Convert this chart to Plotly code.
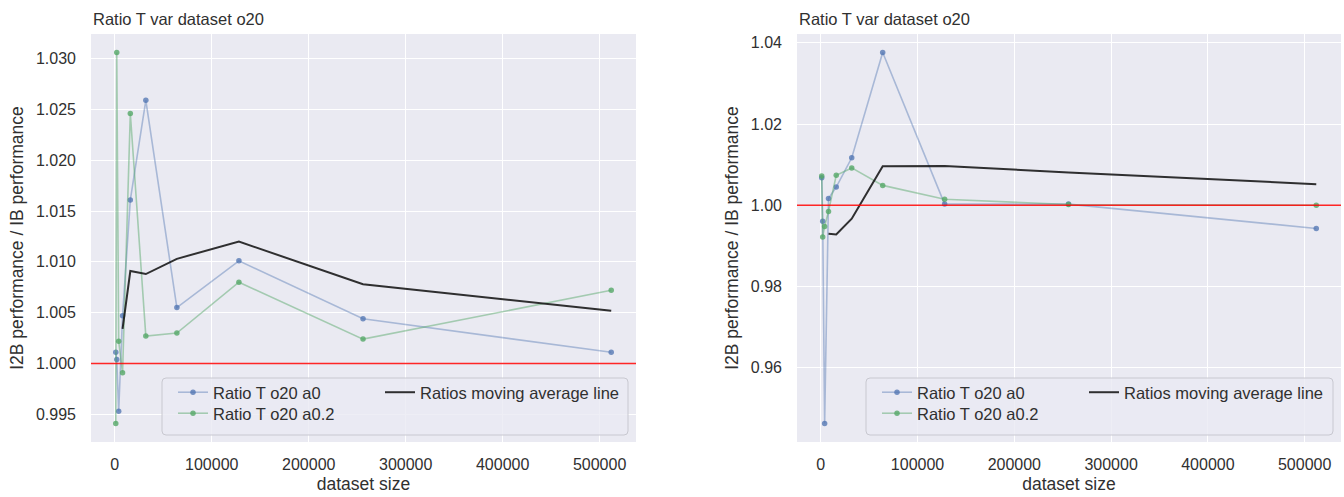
import plotly.graph_objects as go

# ---------------- data ----------------
dataset_size = [1000, 2000, 4000, 8000, 16000, 32000, 64000, 128000, 256000, 512000]
ma_size = [8000, 16000, 32000, 64000, 128000, 256000, 512000]

left_a0 = [1.0011, 1.0004, 0.9953, 1.0047, 1.0161, 1.0259, 1.0055, 1.0101, 1.0044, 1.0011]
left_a02 = [0.9941, 1.0306, 1.0022, 0.9991, 1.0246, 1.0027, 1.0030, 1.0080, 1.0024, 1.0072]
left_ma = [1.0034, 1.0091, 1.0088, 1.0103, 1.0120, 1.0078, 1.0052]

right_a0 = [1.0068, 0.9961, 0.9463, 1.0017, 1.0045, 1.0117, 1.0376, 1.0003, 1.0003, 0.9943]
right_a02 = [1.0072, 0.9922, 0.9948, 0.9985, 1.0074, 1.0092, 1.0049, 1.0015, 1.0002, 1.0000]
right_ma = [0.9930, 0.9928, 0.9967, 1.0096, 1.0097, 1.0081, 1.0052]

x_ticks = [0, 100000, 200000, 300000, 400000, 500000]
left_y_ticks = [0.995, 1.000, 1.005, 1.010, 1.015, 1.020, 1.025, 1.030]
right_y_ticks = [0.96, 0.98, 1.00, 1.02, 1.04]
baseline = 1.0

title_text = "Ratio T var dataset o20"
names = ["Ratio T o20 a0", "Ratio T o20 a0.2", "Ratios moving average line"]

# ---------------- style ----------------
W, H = 1344, 497
FONT = "Liberation Sans, Arial, sans-serif"
TXT = "#303030"
BG = "#EAEAF2"
BLUE_L = "rgba(76,114,176,0.42)"
BLUE_M = "rgba(76,114,176,0.75)"
GREEN_L = "rgba(85,168,104,0.48)"
GREEN_M = "rgba(85,168,104,0.8)"
BLACK = "rgba(20,20,20,0.88)"


def pad(*series):
    vals = [v for s in series for v in s]
    lo, hi = min(vals), max(vals)
    m = 0.05 * (hi - lo)
    return [lo - m, hi + m]


def px_x(p):
    return p / W


def px_y(p):
    return 1 - p / H


def rounded_rect(x0, x1, y0, y1, r=4):
    X0, X1 = px_x(x0), px_x(x1)
    Yt, Yb = px_y(y0), px_y(y1)
    rx, ry = r / W, r / H
    return (f"M{X0+rx},{Yt} L{X1-rx},{Yt} Q{X1},{Yt} {X1},{Yt-ry} "
            f"L{X1},{Yb+ry} Q{X1},{Yb} {X1-rx},{Yb} "
            f"L{X0+rx},{Yb} Q{X0},{Yb} {X0},{Yb+ry} "
            f"L{X0},{Yt-ry} Q{X0},{Yt} {X0+rx},{Yt} Z")


fig = go.Figure()

panels = [
    dict(xa="x", ya="y", a0=left_a0, a02=left_a02, ma=left_ma,
         dom=[91, 636], ticks=left_y_ticks, fmt=".3f", box=[162, 628]),
    dict(xa="x2", ya="y2", a0=right_a0, a02=right_a02, ma=right_ma,
         dom=[797, 1341], ticks=right_y_ticks, fmt=".2f", box=[866, 1333]),
]

layout_axes = {}
shapes = []
annotations = []
legends = {}
lg_count = 0


def new_legend(x_px, y_top_px):
    global lg_count
    lg_count += 1
    key = "legend" if lg_count == 1 else f"legend{lg_count}"
    legends[key] = dict(x=px_x(x_px), xanchor="left", y=px_y(y_top_px), yanchor="top",
                        bgcolor="rgba(0,0,0,0)", borderwidth=0,
                        font=dict(size=16.5, color=TXT, family=FONT),
                        tracegroupgap=0, itemwidth=30)
    return key


for i, p in enumerate(panels):
    bx = p["box"][0]
    lg_a0 = new_legend(bx + 11, 375)
    lg_a02 = new_legend(bx + 11, 396)
    lg_ma = new_legend(bx + 218, 375)

    fig.add_trace(go.Scatter(
        x=dataset_size, y=p["a0"], name=names[0], mode="lines+markers",
        xaxis=p["xa"], yaxis=p["ya"], legend=lg_a0,
        line=dict(color=BLUE_L, width=1.6),
        marker=dict(color=BLUE_M, size=5.5)))
    fig.add_trace(go.Scatter(
        x=dataset_size, y=p["a02"], name=names[1], mode="lines+markers",
        xaxis=p["xa"], yaxis=p["ya"], legend=lg_a02,
        line=dict(color=GREEN_L, width=1.6),
        marker=dict(color=GREEN_M, size=5.5)))
    fig.add_trace(go.Scatter(
        x=ma_size, y=p["ma"], name=names[2], mode="lines",
        xaxis=p["xa"], yaxis=p["ya"], legend=lg_ma,
        line=dict(color=BLACK, width=2)))

    suffix = "" if i == 0 else "2"
    yr = pad(p["a0"], p["a02"], p["ma"], [baseline])
    xr = pad(dataset_size)
    layout_axes["xaxis" + suffix] = dict(
        domain=[px_x(p["dom"][0]), px_x(p["dom"][1])],
        anchor="y" + suffix, range=xr, tickvals=x_ticks, tickformat="d",
        showgrid=True, gridcolor="white", gridwidth=1.3, zeroline=False,
        showline=False, ticks="", ticklabelstandoff=11,
        tickfont=dict(size=16, color=TXT, family=FONT),
        title=dict(text="dataset size", font=dict(size=17.5, color=TXT, family=FONT), standoff=5),
    )
    layout_axes["yaxis" + suffix] = dict(
        domain=[px_y(442), px_y(34)], anchor="x" + suffix, range=yr,
        tickvals=p["ticks"], tickformat=p["fmt"],
        showgrid=True, gridcolor="white", gridwidth=1.3, zeroline=False,
        showline=False, ticks="", ticklabelstandoff=14,
        tickfont=dict(size=16, color=TXT, family=FONT),
        title=dict(text="I2B performance / IB performance",
                   font=dict(size=17.5, color=TXT, family=FONT), standoff=7),
    )
    shapes.append(dict(type="line", xref=p["xa"] + " domain", yref=p["ya"],
                       x0=0, x1=1, y0=baseline, y1=baseline,
                       line=dict(color="rgba(255,0,0,0.85)", width=1.6), layer="above"))
    shapes.append(dict(type="path", xref="paper", yref="paper",
                       path=rounded_rect(p["box"][0], p["box"][1], 378, 435),
                       fillcolor="rgba(234,234,242,0.8)",
                       line=dict(color="rgba(200,200,208,1)", width=1), layer="above"))
    annotations.append(dict(text=title_text, xref=p["xa"] + " domain", yref=p["ya"] + " domain",
                            x=0, y=1, xanchor="left", yanchor="bottom", yshift=4,
                            showarrow=False, font=dict(size=16.5, color=TXT, family=FONT)))

fig.update_layout(
    width=W, height=H, margin=dict(l=0, r=0, t=0, b=0),
    paper_bgcolor="white", plot_bgcolor=BG,
    font=dict(family=FONT, color=TXT),
    shapes=shapes, annotations=annotations,
    showlegend=True,
    **layout_axes, **legends,
)

fig.write_html("out.html")
